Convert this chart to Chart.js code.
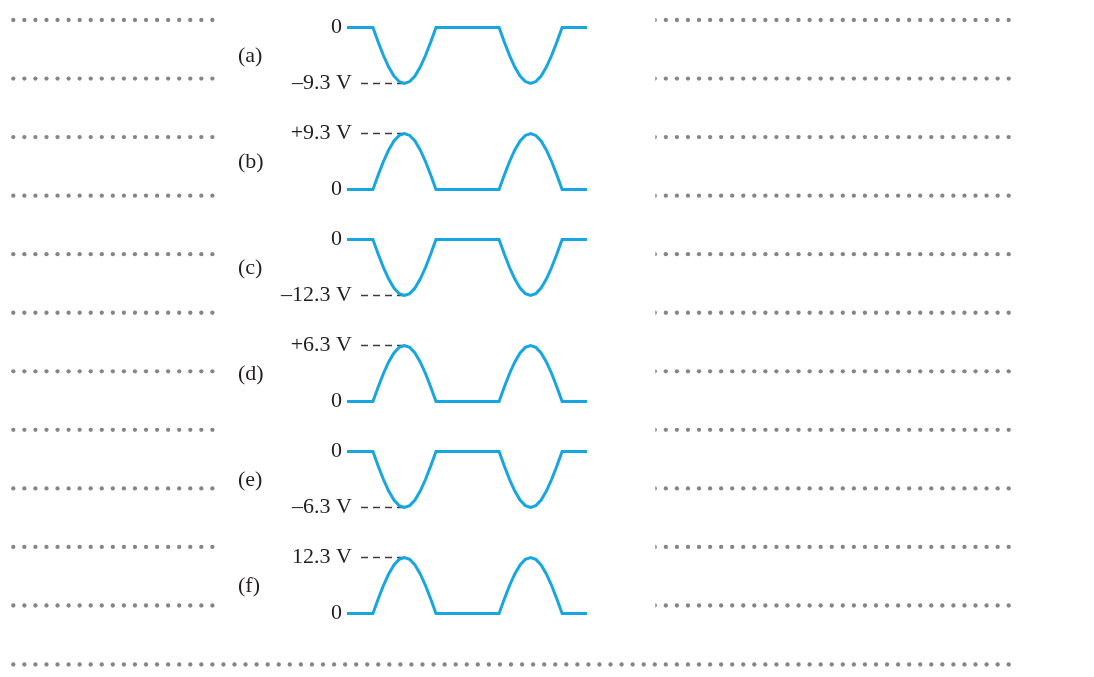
<!DOCTYPE html>
<html>
<head>
<meta charset="utf-8">
<script src="https://cdn.jsdelivr.net/npm/chart.js@4/dist/chart.umd.min.js"></script>
<style>
  html, body { margin: 0; background: #fff; }
  #wrap { position: relative; width: 1094px; height: 677px; }
</style>
</head>
<body>
<div id="wrap"><canvas id="waves"></canvas></div>
<script>
// phase angle (degrees) of each sample along the trace
const phase = [-74, 0, 15, 30, 45, 60, 75, 90, 105, 120, 135, 150, 165, 180,
  360, 375, 390, 405, 420, 435, 450, 465, 480, 495, 510, 525, 540, 611];

// output voltage of each circuit, volts
const waveA = [0, 0, -2.41, -4.65, -6.58, -8.05, -8.98, -9.3, -8.98, -8.05, -6.58, -4.65, -2.41, 0,
  0, -2.41, -4.65, -6.58, -8.05, -8.98, -9.3, -8.98, -8.05, -6.58, -4.65, -2.41, 0, 0];
const waveB = [0, 0, 2.41, 4.65, 6.58, 8.05, 8.98, 9.3, 8.98, 8.05, 6.58, 4.65, 2.41, 0,
  0, 2.41, 4.65, 6.58, 8.05, 8.98, 9.3, 8.98, 8.05, 6.58, 4.65, 2.41, 0, 0];
const waveC = [0, 0, -3.18, -6.15, -8.7, -10.65, -11.88, -12.3, -11.88, -10.65, -8.7, -6.15, -3.18, 0,
  0, -3.18, -6.15, -8.7, -10.65, -11.88, -12.3, -11.88, -10.65, -8.7, -6.15, -3.18, 0, 0];
const waveD = [0, 0, 1.63, 3.15, 4.45, 5.46, 6.09, 6.3, 6.09, 5.46, 4.45, 3.15, 1.63, 0,
  0, 1.63, 3.15, 4.45, 5.46, 6.09, 6.3, 6.09, 5.46, 4.45, 3.15, 1.63, 0, 0];
const waveE = [0, 0, -1.63, -3.15, -4.45, -5.46, -6.09, -6.3, -6.09, -5.46, -4.45, -3.15, -1.63, 0,
  0, -1.63, -3.15, -4.45, -5.46, -6.09, -6.3, -6.09, -5.46, -4.45, -3.15, -1.63, 0, 0];
const waveF = [0, 0, 3.18, 6.15, 8.7, 10.65, 11.88, 12.3, 11.88, 10.65, 8.7, 6.15, 3.18, 0,
  0, 3.18, 6.15, 8.7, 10.65, 11.88, 12.3, 11.88, 10.65, 8.7, 6.15, 3.18, 0, 0];

const rowTags = ["(a)", "(b)", "(c)", "(d)", "(e)", "(f)"];
const peakVolts = [-9.3, 9.3, -12.3, 6.3, -6.3, 12.3];
const peakText = ["–9.3 V", "+9.3 V", "–12.3 V", "+6.3 V", "–6.3 V", "12.3 V"];
const zeroText = "0";
const leaderFrom = -34;
const leaderTo = 90;

const waves = [waveA, waveB, waveC, waveD, waveE, waveF];
const axisIds = ["ya", "yb", "yc", "yd", "ye", "yf"];

const traceColor = "#17a6e2";
const inkColor = "#231f20";
const ruleColor = "#858585";
const serif = '22px "Liberation Serif", "Times New Roman", serif';

const datasets = [];
waves.forEach((wave, i) => {
  datasets.push({
    data: phase.map((x, j) => ({ x, y: wave[j] })),
    yAxisID: axisIds[i],
    borderColor: traceColor,
    borderWidth: 3,
    pointRadius: 0,
    tension: 0,
  });
  datasets.push({
    data: [{ x: leaderFrom, y: peakVolts[i] }, { x: leaderTo, y: peakVolts[i] }],
    yAxisID: axisIds[i],
    borderColor: "#3c3c3c",
    borderWidth: 1.3,
    borderDash: [7, 5],
    pointRadius: 0,
  });
});

// one stacked y axis per trace; the trace fills the middle of its band
const scales = {
  x: { type: "linear", min: -74, max: 611, display: false },
};
axisIds.forEach((id, i) => {
  const amp = Math.abs(peakVolts[i]);
  const pad = amp * 25 / 56;
  scales[id] = {
    type: "linear",
    display: false,
    stack: "rows",
    stackWeight: 1,
    weight: axisIds.length - i,
    bounds: "data",
    min: peakVolts[i] < 0 ? -amp - pad : -pad,
    max: peakVolts[i] < 0 ? pad : amp + pad,
  };
});

// dotted answer rules on both sides
const dottedRules = {
  id: "dottedRules",
  beforeDraw(chart) {
    const ctx = chart.ctx;
    const dot = (n, y) => {
      ctx.beginPath();
      ctx.arc(13.3 + n * 11.06, y, 2.15, 0, Math.PI * 2);
      ctx.fill();
    };
    ctx.save();
    ctx.fillStyle = ruleColor;
    for (let k = 0; k < 11; k++) {
      const y = 20 + k * 58.55;
      for (let n = 0; n <= 18; n++) dot(n, y);
    }
    ctx.save();
    ctx.beginPath();
    ctx.rect(655.3, 0, 440, 640);
    ctx.clip();
    for (let k = 0; k < 11; k++) {
      const y = 20 + k * 58.55;
      for (let n = 58; n <= 90; n++) dot(n, y);
    }
    ctx.restore();
    for (let n = 0; n <= 90; n++) dot(n, 664.5);
    ctx.restore();
  },
};

// level labels and row tags
const levelLabels = {
  id: "levelLabels",
  afterDatasetsDraw(chart) {
    const ctx = chart.ctx;
    ctx.save();
    ctx.font = serif;
    ctx.fillStyle = inkColor;
    ctx.textBaseline = "middle";
    axisIds.forEach((id, i) => {
      const scale = chart.scales[id];
      ctx.textAlign = "right";
      ctx.fillText(zeroText, 342, scale.getPixelForValue(0));
      ctx.fillText(peakText[i], 352, scale.getPixelForValue(peakVolts[i]));
      ctx.textAlign = "left";
      ctx.fillText(rowTags[i], 238, (scale.top + scale.bottom) / 2 + 1);
    });
    ctx.restore();
  },
};

new Chart(document.getElementById("waves"), {
  type: "line",
  data: { datasets },
  options: {
    responsive: true,
    maintainAspectRatio: false,
    animation: false,
    layout: { padding: { left: 347, right: 507, top: 2.5, bottom: 38.5 } },
    plugins: { legend: { display: false }, tooltip: { enabled: false } },
    scales,
  },
  plugins: [dottedRules, levelLabels],
});
</script>
</body>
</html>
